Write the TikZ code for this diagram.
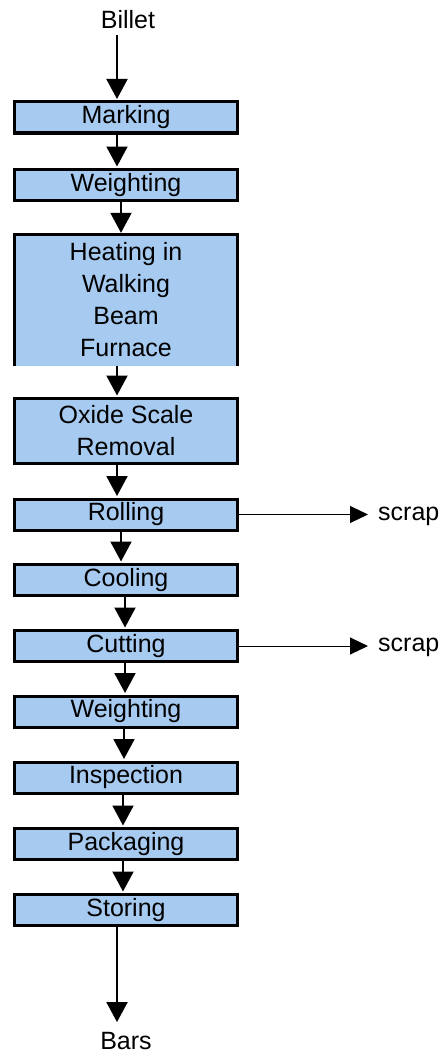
\documentclass[tikz,border=0pt]{standalone}
\usepackage{fontspec}
\setmainfont{Liberation Sans}
\usetikzlibrary{arrows.meta}
\definecolor{boxblue}{RGB}{166,202,240}
\begin{document}
\begin{tikzpicture}[x=1pt,y=-1pt,
  font=\fontsize{25}{32}\selectfont,
  stepbox/.style={draw=black,line width=3pt,fill=boxblue,minimum width=223pt,minimum height=31pt,inner sep=0pt,align=center},
  arr/.style={line width=2pt,-{Triangle[width=21pt,length=20pt]}},
  thinarr/.style={line width=1pt,-{Triangle[width=17pt,length=18pt]}},
  lbl/.style={inner sep=0pt}
]
\useasboundingbox (0,0) rectangle (447,1054);
\node[lbl] (billet) at (128,20) {Billet};
\node[stepbox] (mark) at (126,117.5) {Marking};
\node[stepbox] (w1) at (126,185) {Weighting};
\node[fill=boxblue,minimum width=223pt,minimum height=131pt,inner sep=0pt,align=center] (heat) at (126,300) {Heating in\\Walking\\Beam\\Furnace};
\draw[line width=3pt] (heat.south west) -- (heat.north west) -- (heat.north east) -- (heat.south east);
\node[stepbox,minimum height=65pt] (oxide) at (126,431) {Oxide Scale\\Removal};
\node[stepbox] (roll) at (126,514.5) {Rolling};
\node[stepbox] (cool) at (126,580) {Cooling};
\node[stepbox] (cut) at (126,646) {Cutting};
\node[stepbox] (w2) at (126,711.5) {Weighting};
\node[stepbox] (insp) at (126,777.5) {Inspection};
\node[stepbox] (pack) at (126,844) {Packaging};
\node[stepbox] (store) at (126,910) {Storing};
\node[lbl] (bars) at (126,1041) {Bars};
\node[lbl,anchor=west] (scrap1) at (378,516) {scrap};
\node[lbl,anchor=west] (scrap2) at (378,647) {scrap};

\draw[arr] ([xshift=-11pt,yshift=-6pt]billet.south) -- ([xshift=-9pt,yshift=1.5pt]mark.north);
\draw[arr] ([xshift=-9pt]mark.south) -- ([xshift=-9pt,yshift=1.5pt]w1.north);
\draw[arr] ([xshift=-5pt]w1.south) -- ([xshift=-5pt,yshift=1.5pt]heat.north);
\draw[arr] ([xshift=-9pt]heat.south) -- ([xshift=-9pt,yshift=1.5pt]oxide.north);
\draw[arr] ([xshift=-9pt]oxide.south) -- ([xshift=-9pt,yshift=1.5pt]roll.north);
\draw[arr] ([xshift=-5pt]roll.south) -- ([xshift=-5pt,yshift=1.5pt]cool.north);
\draw[arr] ([xshift=-1pt]cool.south) -- ([xshift=-1pt,yshift=1.5pt]cut.north);
\draw[arr] ([xshift=-1pt]cut.south) -- ([xshift=-1pt,yshift=1.5pt]w2.north);
\draw[arr] ([xshift=-2pt]w2.south) -- ([xshift=-2pt,yshift=1.5pt]insp.north);
\draw[arr] ([xshift=-3pt]insp.south) -- ([xshift=-3pt,yshift=1.5pt]pack.north);
\draw[arr] ([xshift=-3pt]pack.south) -- ([xshift=-3pt,yshift=1.5pt]store.north);
\draw[arr] ([xshift=-9pt]store.south) -- ([xshift=-9pt,yshift=10pt]bars.north);
\draw[thinarr] (roll.east) -- ([xshift=-10pt]roll.east -| scrap1.west);
\draw[thinarr] (cut.east) -- ([xshift=-10pt]cut.east -| scrap2.west);
\end{tikzpicture}
\end{document}
